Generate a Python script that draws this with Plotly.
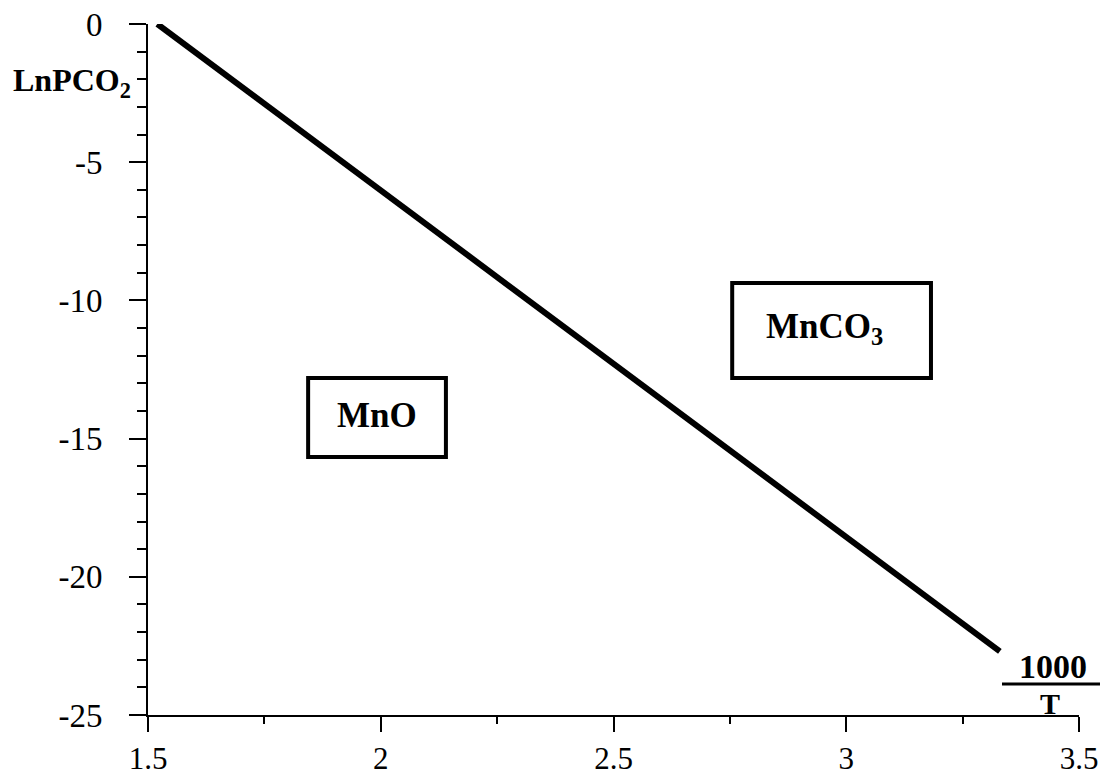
import plotly.graph_objects as go

# Equilibrium MnCO3 <-> MnO + CO2 : ln P(CO2) versus 1000/T
inv_temp = [1.52, 3.33]          # 1000/T
ln_pco2 = [0.0, -22.7]           # ln P(CO2)

region_names = ["MnO", "MnCO<sub>3</sub>"]
x_ticks = [1.5, 2, 2.5, 3, 3.5]
x_tick_text = ["1.5", "2", "2.5", "3", "3.5"]
y_ticks = [0, -5, -10, -15, -20, -25]
y_tick_text = ["0", "-5", "-10", "-15", "-20", "-25"]

SERIF = "Liberation Serif, Times New Roman, serif"
W, H = 1105, 776
L, R, T, B = 148, 26, 24, 61
PW, PH = W - L - R, H - T - B


def px(xp):
    return (xp - L) / PW


def py(yp):
    return (H - B - yp) / PH


fig = go.Figure()
fig.add_trace(go.Scatter(
    x=inv_temp, y=ln_pco2, mode="lines",
    line=dict(color="black", width=6),
    showlegend=False, hoverinfo="skip", cliponaxis=False,
))

# boxed phase-field labels
boxes = [
    dict(name=region_names[0], x0=1.844, x1=2.140, y0=-15.67, y1=-12.81, tx=1.992, ty=-14.15),
    dict(name=region_names[1], x0=2.755, x1=3.182, y0=-12.81, y1=-9.37, tx=2.954, ty=-11.0),
]
shapes = []
annotations = []
for b in boxes:
    shapes.append(dict(type="rect", xref="x", yref="y",
                       x0=b["x0"], x1=b["x1"], y0=b["y0"], y1=b["y1"],
                       line=dict(color="black", width=4)))
    annotations.append(dict(x=b["tx"], y=b["ty"], xref="x", yref="y",
                            text="<b>" + b["name"] + "</b>", showarrow=False,
                            font=dict(family=SERIF, size=35, color="black")))

# y-axis title
annotations.append(dict(x=px(11), y=py(83), xref="paper", yref="paper",
                        xanchor="left", yanchor="middle", showarrow=False,
                        text="<b>LnPCO<sub>2</sub></b>",
                        font=dict(family=SERIF, size=32, color="black")))
# x-axis title as a fraction 1000 / T
annotations.append(dict(x=px(1053), y=py(666), xref="paper", yref="paper",
                        xanchor="center", yanchor="middle", showarrow=False,
                        text="<b>1000</b>",
                        font=dict(family=SERIF, size=34, color="black")))
annotations.append(dict(x=px(1050), y=py(703), xref="paper", yref="paper",
                        xanchor="center", yanchor="middle", showarrow=False,
                        text="<b>T</b>",
                        font=dict(family=SERIF, size=30, color="black")))
shapes.append(dict(type="line", xref="paper", yref="paper",
                   x0=px(1002), x1=px(1100), y0=py(684), y1=py(684),
                   line=dict(color="black", width=3)))

axis_common = dict(
    showgrid=False, zeroline=False, showline=True, linecolor="black", linewidth=2,
    ticks="outside", tickcolor="black", tickwidth=2, automargin=False,
)

fig.update_layout(
    width=W, height=H,
    margin=dict(l=L, r=R, t=T, b=B),
    paper_bgcolor="white", plot_bgcolor="white",
    xaxis=dict(range=[1.5, 3.5], tickvals=x_ticks, ticktext=x_tick_text,
               ticklen=15, ticklabelstandoff=0,
               tickfont=dict(family=SERIF, size=31, color="black"),
               minor=dict(dtick=0.25, tick0=1.5, ticks="outside", ticklen=7,
                          tickcolor="black", tickwidth=2),
               **axis_common),
    yaxis=dict(range=[-25, 0], tickvals=y_ticks, ticktext=y_tick_text,
               ticklen=17, ticklabelstandoff=20,
               tickfont=dict(family=SERIF, size=33, color="black"),
               minor=dict(dtick=1, tick0=0, ticks="outside", ticklen=9,
                          tickcolor="black", tickwidth=2),
               **axis_common),
    shapes=shapes,
    annotations=annotations,
)

fig.write_html("out.html")
